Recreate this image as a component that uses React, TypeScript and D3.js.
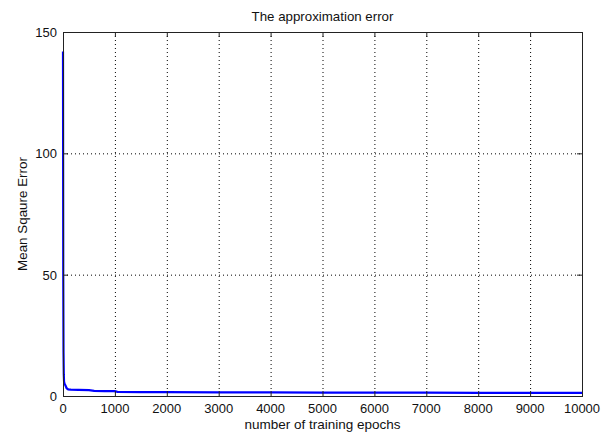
import * as d3 from "d3";
import React from "react";

const W = 611;
const H = 432;
const M = { left: 63, right: 29, top: 32, bottom: 36 };

// training curve (epoch, mse)
const epochs = [0, 5, 10, 15, 20, 30, 40, 50, 70, 100, 150, 300, 500, 600, 800, 1000, 1050, 1500, 2000, 3000, 4000, 5000, 6000, 7000, 8000, 9000, 10000];
const mse = [142, 50, 18, 9, 6, 5, 4.6, 4.2, 3.2, 2.7, 2.6, 2.5, 2.4, 2.1, 2.0, 2.0, 1.7, 1.6, 1.6, 1.5, 1.5, 1.4, 1.4, 1.35, 1.3, 1.3, 1.3];

const xTicks = [0, 1000, 2000, 3000, 4000, 5000, 6000, 7000, 8000, 9000, 10000];
const yTicks = [0, 50, 100, 150];

const title = "The approximation error";
const xLabel = "number of training epochs";
const yLabel = "Mean Sqaure Error";

export default function App() {
  const iw = W - M.left - M.right;
  const ih = H - M.top - M.bottom;
  const x = d3.scaleLinear().domain([0, 10000]).range([M.left, M.left + iw]);
  const y = d3.scaleLinear().domain([0, 150]).range([M.top + ih, M.top]);

  const line = d3
    .line<number>()
    .x((_, i) => x(epochs[i]))
    .y((d) => y(d));

  const font = "'Liberation Sans', Arial, sans-serif";
  const tk = 5;

  return (
    <svg
      width={W}
      height={H}
      style={{ position: "absolute", left: 0, top: 0, background: "#fff" }}
      fontFamily={font}
    >
      <rect x={0} y={0} width={W} height={H} fill="#fff" />
      {/* grid */}
      {xTicks.slice(1, -1).map((t) => (
        <line key={"gx" + t} x1={x(t) + 0.5} x2={x(t) + 0.5} y1={M.top} y2={M.top + ih}
          stroke="#000" strokeWidth={1} strokeDasharray="1,3" />
      ))}
      {yTicks.slice(1, -1).map((t) => (
        <line key={"gy" + t} x1={M.left} x2={M.left + iw} y1={y(t) + 0.5} y2={y(t) + 0.5}
          stroke="#000" strokeWidth={1} strokeDasharray="1,3" />
      ))}
      {/* data */}
      <path d={line(mse) ?? ""} fill="none" stroke="#0000ff" strokeWidth={2.2} />
      {/* box */}
      <rect x={M.left + 0.5} y={M.top + 0.5} width={iw} height={ih} fill="none" stroke="#222" strokeWidth={1} />
      {/* ticks */}
      {xTicks.map((t) => (
        <g key={"tx" + t}>
          <line x1={x(t) + 0.5} x2={x(t) + 0.5} y1={M.top + ih} y2={M.top + ih - tk} stroke="#222" />
          <line x1={x(t) + 0.5} x2={x(t) + 0.5} y1={M.top} y2={M.top + tk} stroke="#222" />
          <text x={x(t)} y={M.top + ih + 17} textAnchor="middle" fontSize={13} fill="#111">{t}</text>
        </g>
      ))}
      {yTicks.map((t) => (
        <g key={"ty" + t}>
          <line x1={M.left} x2={M.left + tk} y1={y(t) + 0.5} y2={y(t) + 0.5} stroke="#222" />
          <line x1={M.left + iw} x2={M.left + iw - tk} y1={y(t) + 0.5} y2={y(t) + 0.5} stroke="#222" />
          <text x={M.left - 6} y={y(t) + 5} textAnchor="end" fontSize={13} fill="#111">{t}</text>
        </g>
      ))}
      {/* labels */}
      <text x={M.left + iw / 2} y={21} textAnchor="middle" fontSize={13.3} fill="#111">{title}</text>
      <text x={M.left + iw / 2} y={429} textAnchor="middle" fontSize={13.5} fill="#111">{xLabel}</text>
      <text transform={`translate(27,${M.top + ih / 2}) rotate(-90)`} textAnchor="middle" fontSize={13.4} fill="#111">{yLabel}</text>
    </svg>
  );
}
